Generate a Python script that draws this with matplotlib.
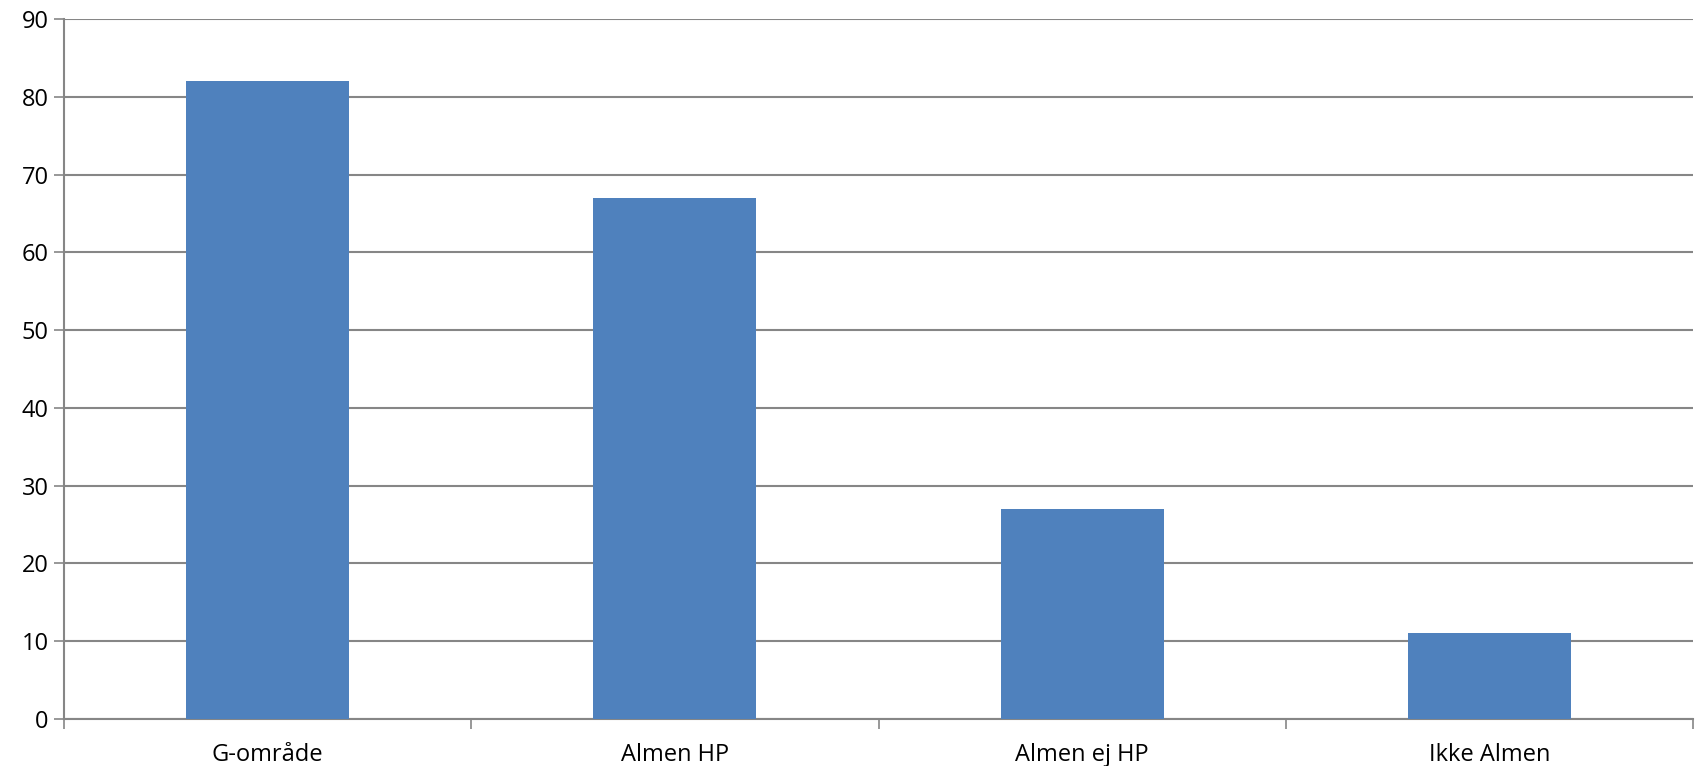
import matplotlib
matplotlib.use('Agg')
import matplotlib.pyplot as plt
import numpy as np

categories = ['G-område', 'Almen HP', 'Almen ej HP', 'Ikke Almen']
values = [82, 67, 27, 11]
yticks = list(range(0, 91, 10))

plt.rcParams['font.family'] = ['Open Sans', 'DejaVu Sans']

fig = plt.figure(figsize=(16.98, 7.66), dpi=100)
ax = fig.add_axes([64 / 1698, 1 - 719 / 766, (1693 - 64) / 1698, (719 - 19) / 766])

grid_c = '#868686'
x = np.arange(len(categories))
ax.bar(x, values, width=0.4, color='#4F81BD', zorder=3)

ax.set_xlim(-0.5, len(categories) - 0.5)
ax.set_ylim(0, 90)
ax.set_yticks(yticks)
ax.set_yticklabels([str(t) for t in yticks], fontsize=17)
ax.yaxis.grid(True, color=grid_c, linewidth=1.5, zorder=0)

# category labels without ticks, ticks at the boundaries
ax.set_xticks(x)
ax.set_xticklabels(categories, fontsize=17)
ax.tick_params(axis='x', length=0, pad=17)
ax.set_xticks(np.arange(-0.5, len(categories)), minor=True)
ax.tick_params(axis='x', which='minor', length=7, width=1.2, color=grid_c)
ax.tick_params(axis='y', length=7, width=1.2, color=grid_c, pad=4)

for s in ['top', 'right']:
    ax.spines[s].set_visible(False)
for s in ['left', 'bottom']:
    ax.spines[s].set_color(grid_c)
    ax.spines[s].set_linewidth(1.5)

fig.savefig('out.png', dpi=100)
